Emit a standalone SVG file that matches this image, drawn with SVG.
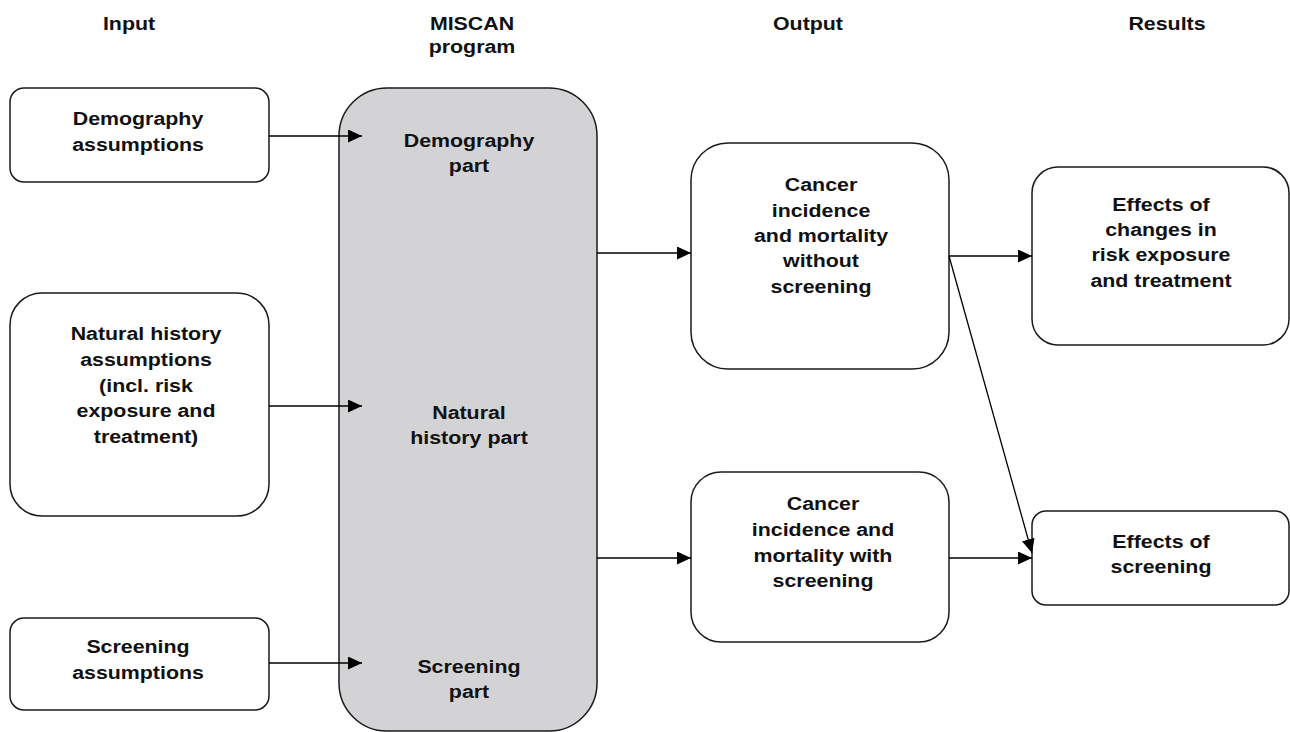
<svg xmlns="http://www.w3.org/2000/svg" width="1290" height="732" viewBox="0 0 1290 732">
<style>
.box{fill:#ffffff;stroke:#1a1a1a;stroke-width:1.5}
.prog{fill:#d3d3d6;stroke:#1a1a1a;stroke-width:1.5}
.t{font-family:"Liberation Sans",Arial,sans-serif;font-weight:bold;font-size:17.8px;fill:#111;text-anchor:middle}
.c{stroke:#000;stroke-width:1.3;fill:none;marker-end:url(#ah)}
</style>
<defs>
<marker id="ah" markerUnits="userSpaceOnUse" markerWidth="16" markerHeight="14" refX="14" refY="6.5" orient="auto">
<path d="M0,0 L14,6.5 L0,13 Z" fill="#000"/>
</marker>
</defs>
<rect width="1290" height="732" fill="#fff"/>
<g id="headers">
<text class="t" transform="matrix(1.2 0 0 1 129 0)"><tspan x="0" y="30">Input</tspan></text>
<text class="t" transform="matrix(1.2 0 0 1 472 0)"><tspan x="0" y="30">MISCAN</tspan><tspan x="0" y="53">program</tspan></text>
<text class="t" transform="matrix(1.2 0 0 1 808 0)"><tspan x="0" y="30">Output</tspan></text>
<text class="t" transform="matrix(1.2 0 0 1 1167 0)"><tspan x="0" y="30">Results</tspan></text>
</g>
<g id="miscan">
<rect class="prog" x="339" y="88" width="258" height="643" rx="48" ry="48"/>
<text class="t" transform="matrix(1.2 0 0 1 469 0)"><tspan x="0" y="147">Demography</tspan><tspan x="0" y="172">part</tspan></text>
<text class="t" transform="matrix(1.2 0 0 1 469 0)"><tspan x="0" y="419">Natural</tspan><tspan x="0" y="444">history part</tspan></text>
<text class="t" transform="matrix(1.2 0 0 1 469 0)"><tspan x="0" y="673">Screening</tspan><tspan x="0" y="698">part</tspan></text>
</g>
<g id="demography-assumptions">
<rect class="box" x="10" y="88" width="259" height="94" rx="14" ry="14"/>
<text class="t" transform="matrix(1.2 0 0 1 138 0)"><tspan x="0" y="125">Demography</tspan><tspan x="0" y="151">assumptions</tspan></text>
</g>
<g id="natural-history-assumptions">
<rect class="box" x="10" y="293" width="259" height="223" rx="32" ry="32"/>
<text class="t" transform="matrix(1.2 0 0 1 146 0)"><tspan x="0" y="340">Natural history</tspan><tspan x="0" y="366">assumptions</tspan><tspan x="0" y="392">(incl. risk</tspan><tspan x="0" y="417">exposure and</tspan><tspan x="0" y="443">treatment)</tspan></text>
</g>
<g id="screening-assumptions">
<rect class="box" x="10" y="618" width="259" height="92" rx="14" ry="14"/>
<text class="t" transform="matrix(1.2 0 0 1 138 0)"><tspan x="0" y="653">Screening</tspan><tspan x="0" y="679">assumptions</tspan></text>
</g>
<g id="output-without">
<rect class="box" x="691" y="143" width="258" height="226" rx="37" ry="37"/>
<text class="t" transform="matrix(1.2 0 0 1 821 0)"><tspan x="0" y="191">Cancer</tspan><tspan x="0" y="217">incidence</tspan><tspan x="0" y="242">and mortality</tspan><tspan x="0" y="267">without</tspan><tspan x="0" y="293">screening</tspan></text>
</g>
<g id="output-with">
<rect class="box" x="691" y="472" width="258" height="170" rx="30" ry="30"/>
<text class="t" transform="matrix(1.2 0 0 1 823 0)"><tspan x="0" y="510">Cancer</tspan><tspan x="0" y="536">incidence and</tspan><tspan x="0" y="562">mortality with</tspan><tspan x="0" y="587">screening</tspan></text>
</g>
<g id="results-changes">
<rect class="box" x="1032" y="167" width="257" height="178" rx="26" ry="26"/>
<text class="t" transform="matrix(1.2 0 0 1 1161 0)"><tspan x="0" y="211">Effects of</tspan><tspan x="0" y="236">changes in</tspan><tspan x="0" y="261">risk exposure</tspan><tspan x="0" y="287">and treatment</tspan></text>
</g>
<g id="results-screening">
<rect class="box" x="1032" y="511" width="257" height="94" rx="14" ry="14"/>
<text class="t" transform="matrix(1.2 0 0 1 1161 0)"><tspan x="0" y="548">Effects of</tspan><tspan x="0" y="573">screening</tspan></text>
</g>
<g id="connectors">
<line class="c" x1="269" y1="136" x2="362" y2="136"/>
<line class="c" x1="269" y1="406" x2="362" y2="406"/>
<line class="c" x1="269" y1="663" x2="362" y2="663"/>
<line class="c" x1="597" y1="253" x2="691" y2="253"/>
<line class="c" x1="597" y1="558" x2="691" y2="558"/>
<line class="c" x1="949" y1="256" x2="1032" y2="256"/>
<line class="c" x1="949" y1="256" x2="1032" y2="553"/>
<line class="c" x1="949" y1="558" x2="1032" y2="558"/>
</g>
</svg>
